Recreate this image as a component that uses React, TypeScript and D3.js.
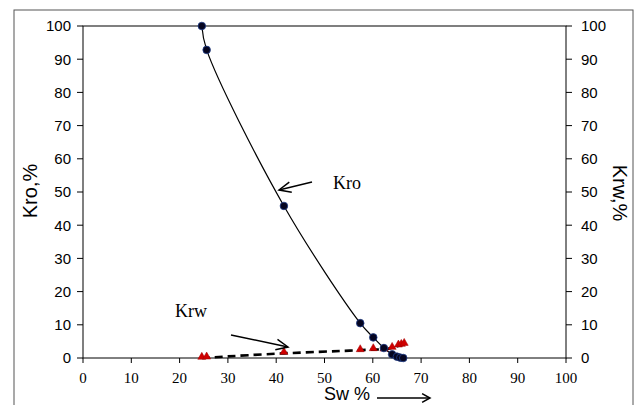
import React from "react";
import * as d3 from "d3";

const swKro = [24.6, 25.6, 41.6, 57.4, 60.1, 62.3, 64.0, 65.0, 65.7, 66.3];
const kro = [100, 92.8, 45.8, 10.5, 6.2, 3.0, 1.1, 0.4, 0.1, 0.0];
const swKrw = [24.6, 25.6, 41.6, 57.4, 60.1, 62.3, 64.0, 65.3, 65.9, 66.5];
const krw = [0.0, 0.1, 1.5, 2.3, 2.6, 2.5, 3.0, 3.7, 3.9, 4.2];
const xTicks = [0, 10, 20, 30, 40, 50, 60, 70, 80, 90, 100];
const yTicks = [0, 10, 20, 30, 40, 50, 60, 70, 80, 90, 100];

const SANS = "'Liberation Sans', Arial, sans-serif";
const SERIF = "'Liberation Serif', 'Times New Roman', serif";

function Arrow({ x1, y1, x2, y2, len = 12, ang = 0.45, w = 1.5 }: any) {
  const a = Math.atan2(y2 - y1, x2 - x1);
  const p1 = [x2 - len * Math.cos(a - ang), y2 - len * Math.sin(a - ang)];
  const p2 = [x2 - len * Math.cos(a + ang), y2 - len * Math.sin(a + ang)];
  return (
    <g stroke="#000" strokeWidth={w} fill="none">
      <line x1={x1} y1={y1} x2={x2} y2={y2} />
      <polyline points={`${p1[0]},${p1[1]} ${x2},${y2} ${p2[0]},${p2[1]}`} />
    </g>
  );
}

export default function App() {
  const x = d3.scaleLinear().domain([0, 100]).range([83, 566]);
  const y = d3.scaleLinear().domain([0, 100]).range([358, 26]);
  const y2 = d3.scaleLinear().domain([0, 100]).range([358, 26]);

  const kroPts: [number, number][] = swKro.map((s, i) => [s, kro[i]]);
  const krwPts: [number, number][] = swKrw.map((s, i) => [s, krw[i]]);

  const kroLine = d3
    .line<[number, number]>()
    .x((d) => x(d[0]))
    .y((d) => y(d[1]))
    .curve(d3.curveCatmullRom.alpha(0.5))(kroPts);
  const krwLine = d3
    .line<[number, number]>()
    .x((d) => x(d[0]))
    .y((d) => y2(d[1]))
    .curve(d3.curveBasis)(krwPts);

  const tri = d3.symbol().type(d3.symbolTriangle).size(28)();

  return (
    <svg
      width={635}
      height={405}
      style={{ position: "absolute", left: 0, top: 0, background: "#fff" }}
    >
      <rect x={14} y={10} width={619} height={420} fill="none" stroke="#555" strokeWidth={1} />
      {/* plot frame */}
      <rect x={83} y={26} width={483} height={332} fill="none" stroke="#000" strokeWidth={1} />
      {/* left axis */}
      {yTicks.map((t) => (
        <g key={"l" + t}>
          <line x1={77} x2={83} y1={y(t)} y2={y(t)} stroke="#000" />
          <text x={71} y={y(t)} dy="0.36em" textAnchor="end" fontFamily={SANS} fontSize={15}>
            {t}
          </text>
        </g>
      ))}
      {/* right axis */}
      {yTicks.map((t) => (
        <g key={"r" + t}>
          <line x1={566} x2={572} y1={y2(t)} y2={y2(t)} stroke="#000" />
          <text x={581} y={y2(t)} dy="0.36em" textAnchor="start" fontFamily={SANS} fontSize={15}>
            {t}
          </text>
        </g>
      ))}
      {/* bottom axis */}
      {xTicks.map((t) => (
        <g key={"b" + t}>
          <line x1={x(t)} x2={x(t)} y1={358} y2={363} stroke="#000" />
          <text x={x(t)} y={383} textAnchor="middle" fontFamily={SERIF} fontSize={15}>
            {t}
          </text>
        </g>
      ))}
      {/* axis titles */}
      <text
        transform="translate(37,191) rotate(-90)"
        textAnchor="middle"
        fontFamily={SANS}
        fontSize={20}
      >
        Kro,%
      </text>
      <text
        transform="translate(613,193) rotate(90)"
        textAnchor="middle"
        fontFamily={SANS}
        fontSize={20}
      >
        Krw,%
      </text>
      <text x={324} y={400} fontFamily={SANS} fontSize={18}>
        Sw %
      </text>
      <Arrow x1={377} y1={398} x2={430} y2={398} len={9} ang={0.5} w={1.5} />

      {/* Kro curve */}
      <path d={kroLine || ""} fill="none" stroke="#000" strokeWidth={1.2} />
      {/* Krw dashed */}
      <path d={krwLine || ""} fill="none" stroke="#000" strokeWidth={2.6} strokeDasharray="8,5" />

      {/* Krw markers */}
      {krwPts.map((d, i) => (
        <path
          key={"t" + i}
          d={tri || ""}
          transform={`translate(${x(d[0])},${y2(d[1]) - 1})`}
          fill="#d00000"
          stroke="#a00000"
          strokeWidth={0.5}
        />
      ))}
      {/* Kro markers */}
      {kroPts.map((d, i) => (
        <circle
          key={"c" + i}
          cx={x(d[0])}
          cy={y(d[1])}
          r={3.8}
          fill="#050520"
          stroke="#1f3c88"
          strokeWidth={0.8}
        />
      ))}

      {/* annotations */}
      <text x={333} y={189} fontFamily={SERIF} fontSize={18}>
        Kro
      </text>
      <Arrow x1={312} y1={182} x2={279} y2={190} len={13} ang={0.42} w={1.5} />
      <text x={175} y={317} fontFamily={SERIF} fontSize={18}>
        Krw
      </text>
      <Arrow x1={231} y1={335} x2={288} y2={347} len={13} ang={0.42} w={1.5} />
    </svg>
  );
}
